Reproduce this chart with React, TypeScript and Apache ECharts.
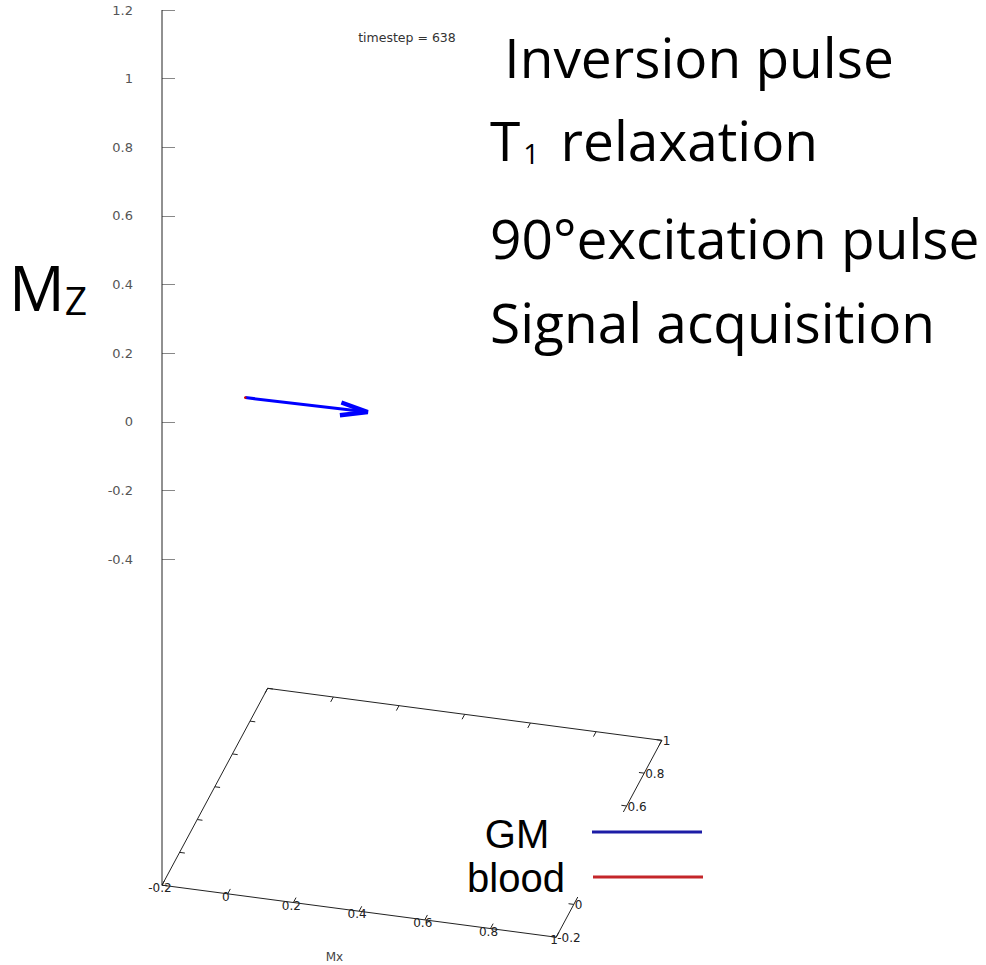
import React, { useEffect, useRef } from "react";
import * as echarts from "echarts";

// ---------------- data ----------------
const mxTickValues = [-0.2, 0, 0.2, 0.4, 0.6, 0.8, 1];
const myTickValues = [-0.2, 0, 0.2, 0.4, 0.6, 0.8, 1];
const mxTickLabels = ["-0.2", "0", "0.2", "0.4", "0.6", "0.8", "1"];
const myTickLabels = ["-0.2", "0", "0.2", "0.4", "0.6", "0.8", "1"];
const mzRange = [-0.4, 1.2];
const mzInterval = 0.2;
// magnetization vectors: [x0, y0, z0, x1, y1, z1]
const gmVector = [0, 0, 0, 0.37, 0.01, 0];
const bloodVector = [0, 0, 0, 0, 0, 0];
const seriesNames = ["GM", "blood"];
const seriesColors = ["#0000ff", "#d40000"];
const legendLineColors = ["#1c1ca6", "#c4262a"];
const timestep = 638;
const xAxisTitle = "Mx";
const stepTexts = [" Inversion pulse", "relaxation", "90°excitation pulse", "Signal acquisition"];

// ---------------- layout (projection of the gnuplot 3D view) ----------------
const MX0 = mxTickValues[0];
const MX1 = mxTickValues[mxTickValues.length - 1];
const MY0 = myTickValues[0];
const MY1 = myTickValues[myTickValues.length - 1];
const Z_FLOOR = -1.3506;
const AX = 0.9577;
const AY = -0.1264;
const BX = 0.2566;
const BY = 0.4781;
const TICK_Y = 0.03;
const TICK_X = 0.016;

function makeProj(api: any) {
  return (x: number, y: number, z: number) => {
    const u = AX * (x - MX0) + BX * (y - MY0);
    const v = z + AY * (x - MX0) + BY * (y - MY0);
    return api.coord([u, v]);
  };
}

const floorFont = { fontSize: 12, fontFamily: "DejaVu Sans", fill: "#222" };

function renderFrame(_params: any, api: any) {
  const P = makeProj(api);
  const ch: any[] = [];
  const corners = [
    P(MX0, MY0, Z_FLOOR),
    P(MX1, MY0, Z_FLOOR),
    P(MX1, MY1, Z_FLOOR),
    P(MX0, MY1, Z_FLOOR),
  ];
  ch.push({
    type: "polygon",
    shape: { points: corners },
    style: { fill: "none", stroke: "#222", lineWidth: 1 },
  });
  const zb = P(MX0, MY0, Z_FLOOR);
  const zt = P(MX0, MY0, mzRange[1]);
  ch.push({
    type: "line",
    shape: { x1: zb[0], y1: zb[1], x2: zt[0], y2: zt[1] },
    style: { stroke: "#222", lineWidth: 1 },
  });
  mxTickValues.forEach((v, i) => {
    const a = P(v, MY0, Z_FLOOR);
    const b = P(v, MY0 + TICK_Y, Z_FLOOR);
    const a2 = P(v, MY1, Z_FLOOR);
    const b2 = P(v, MY1 - TICK_Y, Z_FLOOR);
    ch.push({ type: "line", shape: { x1: a[0], y1: a[1], x2: b[0], y2: b[1] }, style: { stroke: "#222", lineWidth: 1 } });
    ch.push({ type: "line", shape: { x1: a2[0], y1: a2[1], x2: b2[0], y2: b2[1] }, style: { stroke: "#222", lineWidth: 1 } });
    ch.push({
      type: "text",
      style: { text: mxTickLabels[i], x: a[0] - 2, y: a[1] + 3, align: "center", verticalAlign: "middle", ...floorFont },
    });
  });
  myTickValues.forEach((v, i) => {
    const a = P(MX0, v, Z_FLOOR);
    const b = P(MX0 + TICK_X, v, Z_FLOOR);
    const a2 = P(MX1, v, Z_FLOOR);
    const b2 = P(MX1 - TICK_X, v, Z_FLOOR);
    ch.push({ type: "line", shape: { x1: a[0], y1: a[1], x2: b[0], y2: b[1] }, style: { stroke: "#222", lineWidth: 1 } });
    ch.push({ type: "line", shape: { x1: a2[0], y1: a2[1], x2: b2[0], y2: b2[1] }, style: { stroke: "#222", lineWidth: 1 } });
    ch.push({
      type: "text",
      style: { text: myTickLabels[i], x: a2[0] + 1, y: a2[1] + 1, align: "left", verticalAlign: "middle", ...floorFont },
    });
  });
  const t = P(0.4, -0.48, Z_FLOOR);
  ch.push({
    type: "text",
    style: { text: xAxisTitle, x: t[0], y: t[1], align: "center", verticalAlign: "middle", fontSize: 12, fontFamily: "DejaVu Sans", fill: "#444" },
  });
  return { type: "group", children: ch };
}

function makeVectorRenderer(color: string) {
  return (_params: any, api: any) => {
    const P = makeProj(api);
    const p0 = P(api.value(0), api.value(1), api.value(2));
    const p1 = P(api.value(3), api.value(4), api.value(5));
    const dx = p1[0] - p0[0];
    const dy = p1[1] - p0[1];
    const len = Math.hypot(dx, dy);
    if (len < 1) {
      return { type: "circle", shape: { cx: p0[0], cy: p0[1], r: 1.3 }, style: { fill: color } };
    }
    const ang = Math.atan2(dy, dx);
    const L = 28;
    const s = 0.23;
    const b1 = [p1[0] - L * Math.cos(ang - s), p1[1] - L * Math.sin(ang - s)];
    const b2 = [p1[0] - L * Math.cos(ang + s), p1[1] - L * Math.sin(ang + s)];
    return {
      type: "group",
      children: [
        { type: "line", shape: { x1: p0[0], y1: p0[1], x2: p1[0], y2: p1[1] }, style: { stroke: color, lineWidth: 3 } },
        { type: "polyline", shape: { points: [b1, p1, b2] }, style: { stroke: color, lineWidth: 4.5, fill: "none", lineJoin: "miter" } },
      ],
    };
  };
}

const bigFont = "Open Sans";
const BIG = 55;

export default function App() {
  const ref = useRef<HTMLDivElement>(null);
  useEffect(() => {
    if (!ref.current) return;
    const chart = echarts.init(ref.current, null, { renderer: "svg" });
    const bigStyle = { fontSize: BIG, fontFamily: bigFont, fill: "#000", align: "left", verticalAlign: "middle" };
    const legendText = { fontSize: 40, lineHeight: 34, fontFamily: "Liberation Sans", fill: "#000", align: "center", verticalAlign: "middle" };
    const option: any = {
      animation: false,
      backgroundColor: "#ffffff",
      grid: { left: 162, top: 10, width: 686, height: 549, containLabel: false },
      xAxis: { type: "value", min: 0, max: 2, show: false },
      yAxis: {
        type: "value",
        min: mzRange[0],
        max: mzRange[1],
        interval: mzInterval,
        axisLine: { show: false },
        axisTick: { show: true, inside: true, length: 13, lineStyle: { color: "#888", width: 1 } },
        splitLine: { show: false },
        axisLabel: {
          margin: 29,
          color: "#555",
          fontSize: 13,
          fontFamily: "DejaVu Sans",
          formatter: (v: number) => String(Math.round(v * 10) / 10),
        },
      },
      series: [
        { type: "custom", name: "frame", silent: true, clip: false, data: [[0, 0]], renderItem: renderFrame, z: 1 },
        {
          type: "custom", name: seriesNames[0], clip: false, data: [gmVector],
          renderItem: makeVectorRenderer(seriesColors[0]), itemStyle: { color: seriesColors[0] }, z: 3,
        },
        {
          type: "custom", name: seriesNames[1], clip: false, data: [bloodVector],
          renderItem: makeVectorRenderer(seriesColors[1]), itemStyle: { color: seriesColors[1] }, z: 4,
        },
      ],
      graphic: [
        {
          type: "text", x: 407, y: 37, z: 10,
          style: { text: "timestep = " + timestep, align: "center", verticalAlign: "middle", fontSize: 12.5, fontFamily: "DejaVu Sans", fill: "#333" },
        },
        // Mz label (M with subscript Z)
        {
          type: "text", x: 9, y: 256, z: 10,
          style: {
            text: "{m|M}{s|Z}",
            align: "left",
            verticalAlign: "top",
            rich: {
              m: { fontSize: 62, lineHeight: 63, fontFamily: bigFont, fill: "#000", verticalAlign: "top" },
              s: { fontSize: 39, lineHeight: 39, fontFamily: bigFont, fill: "#000", verticalAlign: "bottom", padding: [27, 0, 0, 0] },
            },
          },
        },
        // steps
        { type: "text", x: 490, y: 56, z: 10, style: { text: stepTexts[0], ...bigStyle } },
        {
          type: "text", x: 490, y: 112, z: 10,
          style: {
            text: "{m|T}{s|1}{m| " + stepTexts[1] + "}",
            align: "left",
            verticalAlign: "top",
            rich: {
              m: { fontSize: BIG, lineHeight: BIG, fontFamily: bigFont, fill: "#000", verticalAlign: "top" },
              s: { fontSize: 28, lineHeight: 28, fontFamily: bigFont, fill: "#000", verticalAlign: "bottom", padding: [36, 7, 0, 3] },
            },
          },
        },
        { type: "text", x: 490, y: 237, z: 10, style: { text: stepTexts[2], ...bigStyle } },
        { type: "text", x: 490, y: 321, z: 10, style: { text: stepTexts[3], ...bigStyle } },
        // legend
        {
          type: "group", z: 100,
          children: [
            { type: "rect", shape: { x: 458, y: 812, width: 255, height: 85 }, style: { fill: "#ffffff" }, z: 100 },
            { type: "text", x: 517, y: 834, z: 101, style: { text: seriesNames[0], ...legendText } },
            { type: "text", x: 516, y: 878, z: 101, style: { text: seriesNames[1], ...legendText } },
            { type: "line", z: 101, shape: { x1: 592, y1: 832, x2: 702, y2: 832 }, style: { stroke: legendLineColors[0], lineWidth: 3 } },
            { type: "line", z: 101, shape: { x1: 593, y1: 877, x2: 703, y2: 877 }, style: { stroke: legendLineColors[1], lineWidth: 3 } },
          ],
        },
      ],
    };
    chart.setOption(option);
    return () => chart.dispose();
  }, []);
  return <div ref={ref} style={{ position: "absolute", left: 0, top: 0, width: 986, height: 965 }} />;
}
